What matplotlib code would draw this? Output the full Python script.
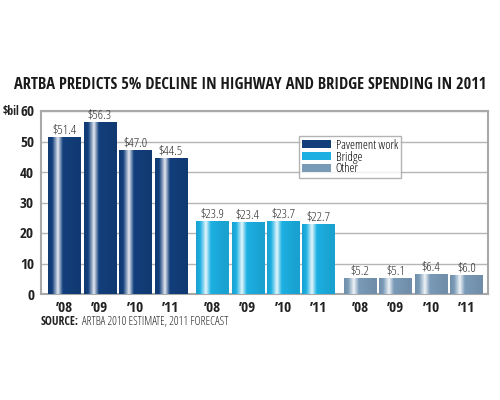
import numpy as np
import matplotlib
matplotlib.use("Agg")
import matplotlib.pyplot as plt
from matplotlib.colors import LinearSegmentedColormap, to_rgb
from matplotlib.patches import Patch

plt.rcParams['font.family'] = ['Open Sans', 'DejaVu Sans']
plt.rcParams['font.stretch'] = 'condensed'
plt.rcParams['font.weight'] = 300
BOLD = dict(family='Open Sans Condensed', fontweight='bold')

groups = ["Pavement work", "Bridge", "Other"]
years = ["’08", "’09", "’10", "’11"]
pavement = [51.4, 56.3, 47.0, 44.5]
bridge = [23.9, 23.4, 23.7, 22.7]
other = [5.2, 5.1, 6.4, 6.0]
colors = ["#123f7c", "#1cb0e2", "#7a9bb8"]

fig = plt.figure(figsize=(5, 4), dpi=100)
ax = fig.add_axes([0.082, 0.265, 0.894, 0.4575])

width = 0.92
gap = 0.17


def shaded(c):
    r, g, b = to_rgb(c)
    light = (1 - (1 - r) * 0.12, 1 - (1 - g) * 0.12, 1 - (1 - b) * 0.12)
    dark = (r * 0.92, g * 0.92, b * 0.92)
    return LinearSegmentedColormap.from_list(
        "s", [(0, dark), (0.12, (r, g, b)), (0.3, light), (0.45, (r, g, b)),
              (0.9, dark), (1, dark)])


xs = []
for gi, vals in enumerate([pavement, bridge, other]):
    cmap = shaded(colors[gi])
    grad = np.linspace(0, 1, 64).reshape(1, -1)
    for i, v in enumerate(vals):
        x = gi * 4 + i + gi * gap
        xs.append(x)
        ax.imshow(grad, cmap=cmap, aspect="auto", zorder=3,
                  extent=[x - width / 2, x + width / 2, 0, v])
        ax.text(x, v + 0.3, "$%.1f" % v, ha="center", va="bottom",
                fontsize=9.5, color="#2a2a2a", zorder=4)

ax.set_xlim(-0.66, xs[-1] + 0.6)
ax.set_ylim(0, 60)
ax.set_yticks(range(0, 61, 10))
ax.set_xticks(xs)
ax.set_xticklabels(years * 3)
ax.grid(axis="y", color="#b5b5b5", linewidth=1, zorder=0)
ax.set_axisbelow(True)
for s in ax.spines.values():
    s.set_color("#a8a8a8")
    s.set_linewidth(1.5)
ax.tick_params(length=0, labelsize=11, colors="#222222", pad=5)
for lab in ax.get_xticklabels() + ax.get_yticklabels():
    lab.set_fontfamily(BOLD['family'])
    lab.set_fontweight("bold")

fig.text(0.006, 0.722, "$bil", fontsize=8.5, color="#222222", va="center", **BOLD)

handles = [Patch(facecolor=c, edgecolor="none") for c in colors]
ax.legend(handles, groups, loc="upper left", bbox_to_anchor=(0.577, 0.865),
          prop=dict(family='Open Sans', stretch='condensed', weight=300, size=9),
          frameon=True, fancybox=False, edgecolor="#a0a0a0",
          handlelength=2.3, handleheight=0.6, labelspacing=-0.1,
          borderpad=0.25, handletextpad=0.4, borderaxespad=0)

fig.text(0.5, 0.787, "ARTBA PREDICTS 5% DECLINE IN HIGHWAY AND BRIDGE SPENDING IN 2011",
         ha="center", va="center", fontsize=11.8, color="#1a1a1a", **BOLD)
src = fig.text(0.082, 0.196, "SOURCE:", fontsize=8.5, color="#222222",
               va="center", **BOLD)
ax.annotate("ARTBA 2010 ESTIMATE, 2011 FORECAST", xy=(1, 0.5), xycoords=src,
            xytext=(2, 0), textcoords="offset points", va="center",
            fontsize=8.5, color="#222222")

fig.savefig("out.png", dpi=100)
